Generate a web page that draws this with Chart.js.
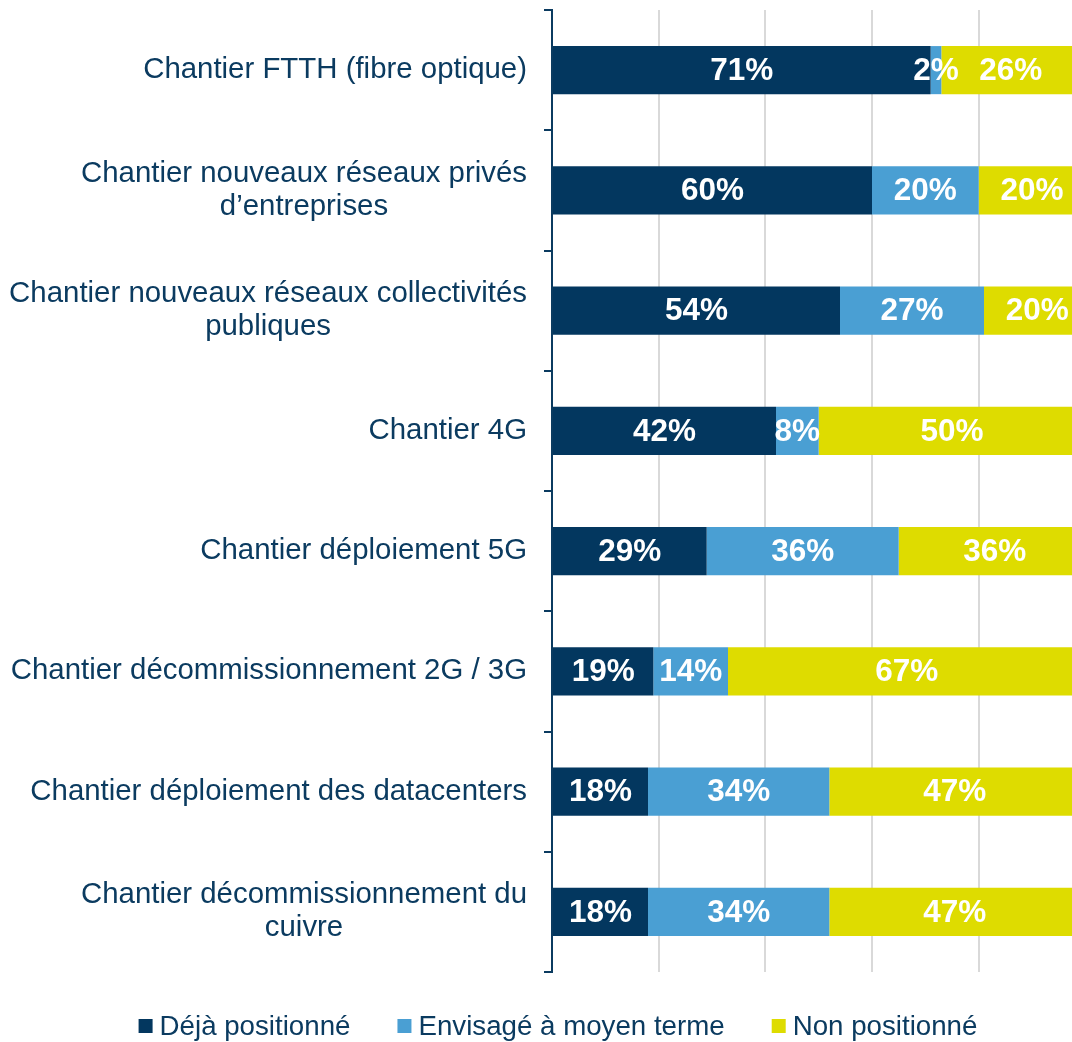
<!DOCTYPE html>
<html>
<head>
<meta charset="utf-8">
<script src="https://cdn.jsdelivr.net/npm/chart.js@4/dist/chart.umd.min.js"></script>
<style>
  html, body { margin: 0; padding: 0; background: #fff; }
  #wrap { width: 1072px; height: 1042px; position: relative; }
</style>
</head>
<body>
<div id="wrap"><canvas id="chantiers"></canvas></div>
<script>
// Categories (multi-line labels)
const categories = [
  ['Chantier FTTH (fibre optique)'],
  ['Chantier nouveaux réseaux privés', 'd’entreprises'],
  ['Chantier nouveaux réseaux collectivités', 'publiques'],
  ['Chantier 4G'],
  ['Chantier déploiement 5G'],
  ['Chantier décommissionnement 2G / 3G'],
  ['Chantier déploiement des datacenters'],
  ['Chantier décommissionnement du', 'cuivre']
];

// Series values (%)
const seriesNames = ['Déjà positionné', 'Envisagé à moyen terme', 'Non positionné'];
const dejaPositionne = [71, 60, 54, 42, 29, 19, 18, 18];
const envisage = [2, 20, 27, 8, 36, 14, 34, 34];
const nonPositionne = [26, 20, 20, 50, 36, 67, 47, 47];

// Vertical gridlines
const xTicks = [0, 20, 40, 60, 80];

// Colors
const colors = {
  deja: '#03375f',
  envisage: '#4a9fd3',
  non: '#dedc00',
  text: '#0b3b60',
  grid: '#d9d9d9'
};

const FONT = "'Liberation Sans', Arial, sans-serif";

// Category labels: block right-aligned, lines centered inside the block
const categoryLabels = {
  id: 'categoryLabels',
  afterDraw(chart) {
    const ctx = chart.ctx;
    const yScale = chart.scales.y;
    const right = yScale.right - 25;
    const lineH = 33;
    ctx.save();
    ctx.font = '29.4px ' + FONT;
    ctx.fillStyle = colors.text;
    ctx.textAlign = 'center';
    ctx.textBaseline = 'middle';
    categories.forEach((lines, i) => {
      const y = yScale.getPixelForValue(i);
      const maxW = Math.max(...lines.map(l => ctx.measureText(l).width));
      const cx = right - maxW / 2;
      const top = y - (lines.length - 1) * lineH / 2;
      lines.forEach((l, k) => ctx.fillText(l, cx, top + k * lineH));
    });
    ctx.restore();
  }
};

// Value labels in the middle of each segment
const barValues = {
  id: 'barValues',
  afterDatasetsDraw(chart) {
    const ctx = chart.ctx;
    ctx.save();
    ctx.font = 'bold 31.5px ' + FONT;
    ctx.fillStyle = '#ffffff';
    ctx.textAlign = 'center';
    ctx.textBaseline = 'middle';
    chart.data.datasets.forEach((ds, di) => {
      chart.getDatasetMeta(di).data.forEach((bar, i) => {
        const p = bar.getProps(['x', 'y', 'base'], true);
        ctx.fillText(ds.data[i] + '%', (p.x + p.base) / 2, p.y + 1);
      });
    });
    ctx.restore();
  }
};

// Legend drawn below the chart
const bottomLegend = {
  id: 'bottomLegend',
  afterDraw(chart) {
    const ctx = chart.ctx;
    const box = 14, gapText = 7, gapItem = 47;
    ctx.save();
    ctx.font = '27.7px ' + FONT;
    ctx.textBaseline = 'middle';
    ctx.textAlign = 'left';
    const items = chart.data.datasets.map(ds => ({
      label: ds.label, color: ds.backgroundColor, w: ctx.measureText(ds.label).width
    }));
    const total = items.reduce((s, it) => s + box + gapText + it.w, 0) + gapItem * (items.length - 1);
    let x = chart.width / 2 + 22 - total / 2;
    const y = chart.chartArea.bottom + 54;
    items.forEach(it => {
      ctx.fillStyle = it.color;
      ctx.fillRect(x, y - box / 2, box, box);
      ctx.fillStyle = colors.text;
      ctx.fillText(it.label, x + box + gapText, y + 1);
      x += box + gapText + it.w + gapItem;
    });
    ctx.restore();
  }
};

new Chart(document.getElementById('chantiers'), {
  type: 'bar',
  data: {
    labels: categories,
    datasets: [
      { label: seriesNames[0], data: dejaPositionne, backgroundColor: colors.deja },
      { label: seriesNames[1], data: envisage, backgroundColor: colors.envisage },
      { label: seriesNames[2], data: nonPositionne, backgroundColor: colors.non }
    ]
  },
  options: {
    indexAxis: 'y',
    responsive: true,
    maintainAspectRatio: false,
    animation: false,
    datasets: {
      bar: { barPercentage: 0.4, categoryPercentage: 1, borderWidth: 0 }
    },
    layout: { padding: { top: 10, right: 0, bottom: 70, left: 0 } },
    plugins: {
      legend: { display: false },
      tooltip: { enabled: false }
    },
    scales: {
      x: {
        stacked: true,
        min: 0,
        max: 97.5,
        afterBuildTicks(scale) {
          scale.ticks = xTicks.map(v => ({ value: v }));
        },
        ticks: { display: false },
        grid: { color: colors.grid, lineWidth: 2, drawTicks: false },
        border: { display: false }
      },
      y: {
        stacked: true,
        afterFit(scale) { scale.width = 552; },
        ticks: { display: false },
        grid: {
          offset: true,
          drawOnChartArea: false,
          drawTicks: true,
          tickLength: 8,
          color: colors.text,
          lineWidth: 2
        },
        border: { display: true, color: colors.text, width: 2 }
      }
    }
  },
  plugins: [categoryLabels, barValues, bottomLegend]
});
</script>
</body>
</html>
